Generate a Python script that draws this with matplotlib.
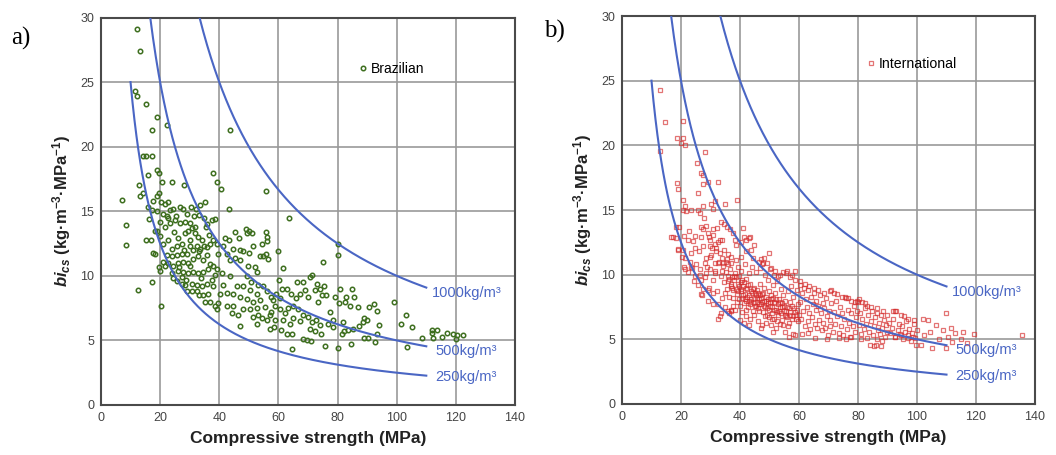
import numpy as np
import matplotlib
matplotlib.use("Agg")
import matplotlib.pyplot as plt

# ---------------- data ----------------
binder_levels = [250, 500, 1000]           # kg/m3 iso-binder curves (bi = B / fc)
curve_start = [10, 500 / 30, 1000 / 30]    # where each curve enters the plot (y = 30 or 25)
curve_end = 110
curve_labels = ["250kg/m³", "500kg/m³", "1000kg/m³"]
curve_label_xy = [(113, 2.15), (113, 4.2), (111.8, 8.65)]

brazilian_points = [
    (12.1, 29.1), (13.2, 27.4), (11.5, 24.3), (12.1, 23.9), (15.1, 23.3), (18.8, 22.3), (22.2, 21.7),
    (17.1, 21.3), (43.6, 21.3), (14.3, 19.3), (15.1, 19.3), (17.1, 19.3), (18.8, 18.2), (19.5, 18.0),
    (37.8, 18.0), (16.0, 17.8), (39.3, 17.3), (40.6, 16.7), (20.7, 17.3), (23.9, 17.3), (28.2, 17.0),
    (13.0, 17.0), (13.2, 16.2), (14.3, 16.4), (7.0, 15.9), (55.7, 16.6), (43.4, 15.2), (63.6, 14.5),
    (8.5, 13.9), (8.5, 12.4), (12.4, 8.9), (17.2, 9.5), (20.2, 7.7), (80.0, 12.5), (80.3, 11.6),
    (75.0, 11.1), (99.1, 8.0), (103.1, 7.0), (101.4, 6.3), (105.2, 6.0), (103.6, 4.5), (108.6, 5.2),
    (111.8, 5.8), (112.0, 5.6), (113.7, 5.8), (112.2, 5.2), (115.2, 5.3), (116.9, 5.6), (119.2, 5.5),
    (120.3, 5.4), (122.3, 5.4), (120.2, 5.1), (64.5, 4.3), (80.0, 4.4), (84.4, 4.7), (75.8, 4.6),
    (47.0, 6.1), (52.6, 6.3), (58.5, 6.0), (60.9, 5.8), (62.8, 5.5), (64.5, 5.5), (68.4, 5.1),
    (69.6, 5.0), (70.9, 4.95), (89.0, 5.2), (90.2, 5.2), (92.7, 4.9), (93.2, 5.5), (94.0, 6.2),
    (93.2, 7.3), (92.4, 7.8), (90.7, 7.6), (89.0, 6.7), (88.5, 6.4), (89.8, 6.6), (87.4, 6.1),
    (84.8, 9.0), (80.8, 9.0), (85.4, 8.4), (83.0, 8.4), (84.2, 7.7), (87.0, 7.6), (82.5, 8.0),
    (79.1, 8.4), (80.6, 7.9), (77.4, 7.2), (78.5, 6.6), (81.9, 6.4), (82.2, 5.7), (83.6, 5.8),
    (85.1, 5.9), (81.4, 5.5), (78.5, 6.0), (76.9, 6.3),
    (68.2, 9.5), (69.0, 8.9), (70.7, 9.9), (71.5, 10.1), (72.9, 9.4), (74.1, 9.0), (75.4, 9.2),
    (72.3, 8.9), (74.6, 8.5), (76.1, 8.5), (73.5, 8.0), (70.1, 8.4), (67.3, 8.6), (65.9, 8.3),
    (64.1, 8.6), (62.8, 9.0), (61.1, 9.0), (60.3, 9.7), (61.6, 10.6), (59.8, 11.9), (66.2, 9.5),
    (65.0, 7.7), (63.3, 7.5), (62.2, 7.1), (66.7, 7.4), (68.4, 7.0), (70.1, 6.8), (71.2, 6.4),
    (72.7, 6.6), (74.1, 6.2), (72.4, 5.7), (74.3, 5.5), (70.7, 5.9), (67.3, 6.5), (65.0, 6.7),
    (63.9, 6.3), (61.7, 6.6), (60.5, 7.4), (58.8, 7.7), (57.4, 7.2), (58.8, 6.6), (57.1, 5.9),
    (56.0, 6.6),
    (49.3, 13.3), (50.1, 13.5), (51.2, 13.3), (49.0, 13.6), (54.3, 12.5), (55.8, 13.4), (56.0, 13.0),
    (56.0, 12.7), (54.8, 11.5), (55.7, 11.7), (56.5, 11.3), (53.8, 11.5), (50.1, 11.8), (46.8, 12.9),
    (45.3, 13.4), (48.1, 11.9), (44.8, 12.1), (43.7, 11.2), (47.0, 11.2), (49.8, 10.8), (52.1, 10.7),
    (52.6, 10.3), (49.3, 10.0), (50.9, 9.5), (53.2, 9.3), (54.9, 9.2), (56.0, 8.8), (52.6, 8.6),
    (50.4, 8.9), (48.1, 9.2), (46.1, 9.2), (44.8, 8.6), (47.0, 8.4), (49.3, 8.2), (51.5, 8.0),
    (53.8, 8.1), (55.5, 7.6), (52.6, 7.5), (50.4, 7.4), (48.1, 7.4), (44.8, 7.7), (44.2, 7.1),
    (46.4, 7.0), (51.5, 6.8), (53.2, 7.0), (54.3, 6.7), (57.1, 7.0), (58.3, 8.1), (57.4, 8.4),
    (59.2, 8.6), (60.5, 8.3), (39.7, 7.9), (42.5, 7.7), (40.2, 8.6), (42.5, 8.7), (41.4, 9.3),
    (43.6, 10.0), (40.8, 10.2), (39.1, 10.5), (38.0, 10.8), (39.7, 11.7), (41.4, 12.3), (39.1, 12.5),
    (38.0, 12.8), (36.6, 13.2), (35.5, 13.8), (35.2, 15.7), (36.9, 12.5), (43.4, 12.8), (47.0, 12.0),
    (51.5, 12.3), (41.9, 12.9), (42.5, 11.7), (45.3, 11.4),
    (17.7, 15.8), (18.8, 16.2), (19.7, 16.4), (20.3, 15.7), (21.5, 15.6), (22.8, 15.7), (16.0, 15.3),
    (16.3, 14.4), (17.1, 15.1), (18.8, 15.0), (20.9, 14.8), (22.2, 14.6), (23.4, 15.1), (24.4, 15.2),
    (26.7, 15.3), (27.8, 15.2), (29.0, 14.8), (30.6, 15.3), (32.3, 15.2), (33.2, 14.7), (19.9, 14.2),
    (21.6, 13.8), (23.4, 14.1), (25.0, 14.3), (26.7, 14.1), (28.4, 14.2), (30.1, 14.1), (31.8, 13.8),
    (18.8, 13.5), (18.3, 13.5), (15.4, 12.8), (16.8, 12.8), (17.7, 11.8), (18.3, 11.7), (19.9, 13.1),
    (21.0, 12.5), (22.8, 12.8), (23.9, 12.1), (25.6, 12.3), (27.3, 12.5), (28.4, 13.3), (29.5, 13.5),
    (30.7, 13.7), (31.8, 13.3), (32.9, 13.0), (34.0, 12.8), (34.8, 12.3), (33.5, 12.1), (32.4, 12.3),
    (31.2, 12.0), (30.1, 12.3), (29.0, 11.7), (27.3, 11.7), (25.6, 11.6), (23.9, 11.5), (22.2, 11.6),
    (21.0, 11.1), (22.8, 11.0), (24.4, 10.8), (26.1, 11.0), (27.8, 11.1), (29.5, 11.0), (31.2, 11.3),
    (32.9, 11.5), (34.6, 11.2), (35.7, 11.6), (36.9, 10.9), (36.3, 10.5), (34.6, 10.3), (32.9, 10.2),
    (31.2, 10.3), (29.5, 10.2), (27.8, 10.3), (26.1, 10.4), (24.4, 9.8), (25.6, 9.6), (27.3, 9.9),
    (28.9, 9.7), (30.7, 9.4), (32.4, 9.3), (34.0, 9.2), (35.7, 9.4), (37.4, 9.7), (38.6, 10.1),
    (38.0, 9.2), (36.3, 8.6), (34.6, 8.5), (33.3, 8.5), (35.2, 8.0), (36.9, 8.0), (38.5, 7.7),
    (39.1, 7.4), (19.7, 10.7), (19.9, 10.4), (21.6, 10.8), (29.0, 8.8), (30.7, 8.8), (32.4, 8.8),
    (27.3, 9.4), (28.4, 9.3), (37.4, 14.3), (38.5, 14.4), (34.8, 14.5), (35.7, 14.0), (33.5, 15.5),
    (25.4, 14.6), (22.6, 14.5), (30.0, 12.8), (28.0, 12.0), (26.0, 12.9), (33.0, 11.9), (24.8, 13.4),
    (31.5, 14.6), (36.0, 12.2), (30.2, 10.8), (33.8, 9.8), (26.5, 10.7), (24.0, 10.2),
]

international_points = [
    (13.0, 24.3), (14.5, 21.8), (12.8, 19.6), (20.8, 21.9), (18.6, 20.6), (20.7, 20.6), (19.9, 20.2),
    (21.2, 20.0), (28.3, 19.5), (25.5, 18.6), (26.8, 17.9), (27.3, 17.7), (18.6, 17.1), (19.1, 16.6),
    (27.4, 17.0), (29.1, 17.2), (32.5, 17.2), (25.8, 16.3), (20.7, 15.8), (21.2, 15.3), (20.7, 15.0),
    (21.8, 14.9), (23.5, 15.0), (25.8, 15.0), (26.3, 14.8), (27.4, 15.3), (30.3, 15.5), (31.6, 15.7),
    (34.8, 15.5), (39.1, 15.8), (30.8, 15.1), (27.8, 14.4),
    (18.4, 13.7), (19.2, 13.7), (16.7, 12.9), (18.4, 12.8), (19.0, 12.0), (20.7, 11.9), (21.0, 10.6),
    (21.2, 10.4), (22.4, 12.7), (24.6, 13.0), (23.3, 11.7), (24.6, 12.1), (26.9, 13.7), (27.4, 13.5),
    (26.9, 12.9), (29.1, 13.2), (30.8, 13.5), (30.0, 12.7), (31.4, 12.4), (30.0, 12.2), (32.0, 12.1),
    (33.1, 12.7), (33.1, 11.7), (29.7, 11.4), (28.0, 10.9), (26.3, 10.4), (23.5, 10.6), (24.6, 9.9),
    (26.9, 9.6), (28.6, 10.1), (29.7, 10.4), (31.4, 10.1), (31.4, 10.9), (32.5, 10.9), (34.2, 10.9),
    (35.7, 11.2), (35.9, 10.8), (36.8, 11.4), (33.6, 14.1), (34.7, 13.9), (35.7, 13.7), (36.5, 13.5),
    (37.6, 13.2), (38.4, 12.7), (38.7, 12.3), (41.0, 13.6), (42.1, 12.7), (42.9, 12.8), (44.7, 12.3),
    (43.9, 11.9), (42.1, 11.8), (40.4, 11.4), (47.2, 11.2), (48.3, 11.3), (50.0, 11.7), (47.8, 10.9),
    (26.9, 8.5), (29.1, 8.8), (30.8, 8.6), (32.5, 7.7), (32.5, 6.6), (33.4, 7.0), (36.0, 7.2),
    (37.0, 7.3),
    (21.5, 11.3), (22.3, 10.2), (23.0, 11.0), (23.8, 10.5), (24.5, 9.5), (25.2, 10.8), (25.9, 9.2),
    (26.6, 10.0), (27.3, 8.9), (28.0, 9.8), (28.7, 10.6), (29.4, 9.0), (30.1, 11.5), (30.8, 9.6),
    (31.5, 10.3), (32.2, 8.7), (32.9, 11.0), (33.6, 9.9), (34.3, 10.7), (27.0, 8.4), (29.0, 8.0),
    (31.0, 7.7), (33.2, 6.8), (30.5, 12.1), (31.8, 11.8), (32.6, 12.5), (29.6, 12.9), (28.4, 11.3),
    (27.5, 12.2), (26.2, 11.8), (24.2, 12.6), (22.8, 13.4), (21.0, 13.0), (20.3, 11.4), (19.1, 11.9),
    (17.4, 12.95), (33.8, 11.3), (34.6, 11.9), (35.4, 11.0), (36.0, 11.6), (34.0, 8.2), (35.0, 7.5),
    (36.2, 7.0), (37.1, 7.2), (28.5, 13.8), (31.0, 13.1), (32.3, 13.6), (33.8, 12.7),
    (35.2, 10.2), (35.8, 9.9), (36.1, 9.5), (36.5, 10.4), (37.0, 9.1), (37.2, 9.8), (37.8, 8.8),
    (38.1, 9.6), (38.4, 10.1), (38.9, 8.5), (39.2, 9.3), (39.5, 8.1), (39.8, 9.9), (36.4, 8.3),
    (37.5, 7.6), (38.3, 7.3), (39.0, 7.9), (35.6, 8.9), (36.9, 10.9), (38.6, 11.1), (39.4, 10.6),
    (34.5, 9.4), (34.8, 8.6), (33.9, 10.3),
    (40.2, 9.4), (40.5, 8.7), (40.8, 8.2), (41.1, 9.1), (41.3, 7.8), (41.6, 8.5), (41.9, 9.7),
    (42.2, 8.0), (42.5, 8.9), (42.8, 7.5), (43.1, 8.4), (43.4, 9.3), (43.7, 7.9), (44.0, 8.6),
    (44.3, 7.2), (44.6, 8.2), (44.9, 9.0), (40.4, 10.3), (41.8, 10.8), (43.0, 10.1), (44.2, 10.6),
    (40.7, 7.1), (42.0, 6.8), (43.5, 6.6), (44.8, 6.9), (41.5, 6.3), (42.9, 6.1), (40.1, 6.5),
    (45.0, 7.6),
    (45.3, 8.4), (45.6, 7.9), (45.9, 8.8), (46.2, 7.4), (46.5, 8.1), (46.8, 9.3), (47.1, 7.7),
    (47.4, 8.5), (47.7, 7.1), (48.0, 8.0), (48.3, 9.0), (48.6, 7.5), (48.9, 8.3), (49.2, 6.9),
    (49.5, 7.8), (49.8, 8.7), (45.5, 10.2), (46.9, 10.5), (48.4, 10.0), (49.6, 9.6), (46.0, 6.4),
    (47.5, 6.1), (48.8, 6.3), (49.9, 6.7), (47.0, 5.9),
    (50.2, 7.6), (50.5, 8.4), (50.8, 7.0), (51.1, 9.2), (51.4, 7.9), (51.7, 6.6), (52.0, 8.6),
    (52.3, 7.3), (52.6, 9.5), (52.9, 6.9), (53.2, 8.1), (53.5, 7.5), (53.8, 8.9), (54.1, 6.5),
    (54.4, 7.8), (54.7, 8.4), (50.3, 10.4), (51.6, 10.0), (53.0, 9.9), (54.5, 10.2), (50.6, 6.1),
    (52.1, 5.9), (53.7, 6.2), (55.0, 7.2), (51.3, 5.6),
    (55.3, 8.0), (55.6, 6.8), (55.9, 7.5), (56.2, 8.7), (56.5, 6.3), (56.8, 7.9), (57.1, 7.1),
    (57.4, 9.1), (57.7, 6.6), (58.0, 8.3), (58.3, 7.4), (58.6, 5.3), (58.9, 6.9), (59.2, 8.8),
    (59.5, 6.4), (59.8, 7.7), (56.0, 10.3), (57.5, 10.0), (58.8, 9.6), (56.7, 5.2), (57.9, 5.4),
    (55.4, 5.6),
    # extra points in the dense core of the international cloud
    (36.3, 9.7), (36.9, 9.3), (37.4, 9.0), (37.9, 9.9), (38.5, 8.9), (38.8, 9.8), (39.3, 8.7),
    (39.7, 9.1), (40.3, 8.9), (40.6, 9.6), (41.0, 8.4), (41.4, 9.4), (41.7, 8.1), (42.1, 9.0),
    (42.4, 8.3), (42.7, 9.2), (43.2, 8.0), (43.6, 8.7), (43.9, 8.1), (44.4, 8.9), (44.7, 7.8),
    (45.1, 8.6), (45.4, 7.6), (45.8, 8.2), (46.1, 8.6), (46.4, 7.7), (46.7, 8.4), (47.2, 8.2),
    (47.6, 7.9), (47.9, 8.6), (48.2, 7.6), (48.7, 8.0), (49.0, 7.4), (49.4, 8.1), (49.7, 7.3),
    (50.1, 7.9), (50.4, 8.1), (50.9, 7.5), (51.2, 8.2), (51.5, 7.3), (51.9, 7.8), (52.2, 8.1),
    (52.5, 7.1), (52.8, 7.7), (53.3, 7.2), (53.6, 7.9), (54.0, 7.0), (54.3, 7.5), (54.8, 7.6),
    (55.2, 6.9), (55.7, 7.2), (56.1, 6.7), (56.6, 7.4), (57.0, 6.9), (57.6, 7.6), (58.1, 6.8),
    (58.5, 7.1), (59.0, 6.6), (59.4, 7.3), (59.9, 6.9), (37.6, 8.2), (39.9, 7.6), (41.9, 7.3),
    (43.3, 7.7), (46.6, 7.2), (48.5, 6.8), (50.7, 6.6), (52.7, 6.4), (54.6, 6.1), (56.3, 6.0),
    (60.2, 9.2), (60.5, 7.9), (60.8, 6.6), (61.1, 8.6), (61.4, 7.2), (61.7, 9.0), (62.0, 6.0),
    (62.3, 8.1), (62.6, 7.5), (62.9, 6.4), (63.2, 8.8), (63.5, 7.0), (63.8, 5.8), (64.1, 8.3),
    (64.4, 6.7), (64.7, 7.7), (65.0, 8.6), (65.3, 6.2), (65.6, 7.3), (65.9, 8.0), (66.2, 5.9),
    (66.5, 7.6), (66.8, 6.5), (67.1, 8.4), (67.4, 7.0), (67.7, 5.7), (68.0, 7.8), (68.3, 6.3),
    (68.6, 7.4), (68.9, 5.9), (69.2, 8.2), (69.5, 6.8), (69.8, 5.3), (70.1, 7.2), (61.0, 5.4),
    (63.0, 5.5), (65.5, 5.1), (69.5, 5.0), (71.0, 8.8), (70.5, 6.0),
    (70.6, 6.5), (71.0, 7.8), (71.4, 5.6), (71.8, 7.1), (72.2, 6.2), (72.6, 8.0), (73.0, 6.8),
    (73.4, 5.5), (73.8, 7.5), (74.2, 6.0), (74.6, 7.0), (75.0, 5.3), (75.4, 6.6), (75.8, 8.2),
    (76.2, 5.8), (76.6, 7.3), (77.0, 6.3), (77.4, 5.2), (77.8, 7.0), (78.2, 6.0), (78.6, 7.6),
    (79.0, 5.6), (79.4, 6.7), (79.8, 7.2), (72.0, 8.6), (74.5, 8.3), (77.5, 8.0), (78.9, 7.9),
    (76.0, 5.0), (73.5, 5.1),
    (80.3, 6.1), (80.7, 7.0), (81.1, 5.4), (81.5, 6.6), (81.9, 5.8), (82.3, 7.4), (82.7, 6.2),
    (83.1, 5.1), (83.5, 6.9), (83.9, 5.6), (84.3, 6.4), (84.7, 7.2), (85.1, 5.3), (85.5, 6.0),
    (85.9, 6.7), (86.3, 5.0), (86.7, 5.7), (87.1, 6.3), (87.5, 5.4), (87.9, 6.9), (88.3, 5.9),
    (88.7, 6.5), (89.1, 5.2), (89.5, 6.1), (89.9, 5.6), (81.5, 7.9), (84.0, 4.6), (85.5, 4.5),
    (88.0, 4.9), (86.5, 7.0), (83.0, 7.6),
    (90.4, 6.3), (90.9, 5.5), (91.4, 5.9), (91.9, 6.6), (92.4, 5.2), (92.9, 7.2), (93.4, 5.7),
    (93.9, 6.2), (94.4, 5.4), (94.9, 6.0), (95.4, 5.0), (95.9, 5.6), (96.4, 6.4), (96.9, 5.3),
    (97.4, 5.8), (97.9, 4.9), (98.4, 5.5), (98.9, 6.2), (99.4, 5.1), (99.9, 5.7),
    (109.9, 7.0), (111.5, 5.9), (135.6, 5.3), (119.4, 5.4), (115.5, 5.6), (115.0, 5.0), (112.0, 4.8),
    (109.9, 4.3), (105.1, 4.3), (101.4, 4.6), (99.7, 4.6), (107.6, 5.0), (108.7, 5.7), (106.5, 6.1),
    (103.6, 6.5), (102.0, 6.6), (99.1, 6.5), (95.5, 6.8), (92.7, 7.2), (90.0, 6.9), (98.6, 5.2),
    (96.9, 5.1), (94.6, 5.3), (92.4, 5.2), (87.8, 4.5), (86.1, 4.6), (81.0, 5.0), (77.7, 5.2),
    (80.0, 7.9), (76.5, 8.2), (104.5, 5.6), (102.5, 5.3), (110.5, 5.2), (113.0, 5.5), (117.0, 4.7),
    (40.5, 12.5), (41.5, 12.9), (43.5, 12.9), (44.5, 11.3), (46.5, 11.0), (47.5, 10.8), (49.0, 10.9),
    (50.5, 10.5), (52.0, 10.3), (53.5, 10.0), (55.5, 10.1), (57.0, 9.8), (58.5, 10.3), (60.5, 9.5),
    (62.0, 9.3), (63.5, 9.1), (65.0, 9.0), (66.5, 8.8), (68.5, 8.6), (70.5, 8.7), (73.0, 8.5),
    (75.5, 8.3), (79.5, 8.0), (80.5, 8.1), (82.5, 7.8), (84.5, 7.5), (86.5, 7.4), (88.5, 7.2),
    (92.0, 7.2), (94.5, 6.9), (97.0, 6.6),
]

x_ticks = [0, 20, 40, 60, 80, 100, 120, 140]
y_ticks = [0, 5, 10, 15, 20, 25, 30]

# ---------------- style ----------------
plt.rcParams["font.family"] = ["Liberation Sans", "DejaVu Sans"]
plt.rcParams["mathtext.fontset"] = "custom"
plt.rcParams["mathtext.rm"] = "Liberation Sans:bold"
plt.rcParams["mathtext.it"] = "Liberation Sans:italic:bold"
plt.rcParams["mathtext.bf"] = "Liberation Sans:bold"

curve_color = "#4a66c4"
grid_color = "#999999"
spine_color = "#4a4a4a"
tick_color = "#444444"

fig = plt.figure(figsize=(10.56, 4.55), dpi=100)
ax_a = fig.add_axes([0.0956, 0.1099, 0.3921, 0.8516])
ax_b = fig.add_axes([0.5890, 0.1121, 0.3911, 0.8527])


def style_axes(ax):
    ax.set_xlim(0, 140)
    ax.set_ylim(0, 30)
    ax.set_xticks(x_ticks)
    ax.set_yticks(y_ticks)
    ax.grid(True, color=grid_color, linewidth=1.2)
    ax.set_axisbelow(True)
    for sp in ax.spines.values():
        sp.set_color(spine_color)
        sp.set_linewidth(1.5)
    ax.tick_params(length=0, pad=5, labelsize=9, colors=tick_color)
    ax.set_xlabel("Compressive strength (MPa)", fontsize=12.5, fontweight="bold",
                  color="#222222", labelpad=5)
    ax.set_ylabel(r"$\mathit{bi_{cs}}$ (kg·m$^{\mathrm{-3}}$·MPa$^{\mathrm{-1}}$)",
                  fontsize=12, fontweight="bold", color="#222222", labelpad=5)
    for b, x0, lab, (lx, ly) in zip(binder_levels, curve_start, curve_labels, curve_label_xy):
        xs = np.linspace(x0, curve_end, 300)
        ax.plot(xs, b / xs, color=curve_color, linewidth=1.5, zorder=3)
        ax.text(lx, ly, lab, color=curve_color, fontsize=10.5, va="center", ha="left", zorder=4)


style_axes(ax_a)
style_axes(ax_b)

bx, by = zip(*brazilian_points)
ax_a.plot(bx, by, linestyle="none", marker="o", markersize=3.2, markerfacecolor="none",
          markeredgecolor="#3d6e1e", markeredgewidth=1.1, zorder=2, label="Brazilian")
ix, iy = zip(*international_points)
ax_b.plot(ix, iy, linestyle="none", marker="s", markersize=3.4, markerfacecolor="none",
          markeredgecolor="#d42a2a", markeredgewidth=0.9, alpha=0.65, zorder=2,
          label="International")

ax_a.legend(loc="center left", bbox_to_anchor=(0.625, 0.867), frameon=False, fontsize=10,
            handlelength=0.5, handletextpad=0.3, borderaxespad=0, borderpad=0)
ax_b.legend(loc="center left", bbox_to_anchor=(0.595, 0.877), frameon=False, fontsize=10.2,
            handlelength=0.5, handletextpad=0.3, borderaxespad=0, borderpad=0)

fig.text(0.0105, 0.915, "a)", fontsize=18, family=["Liberation Serif", "DejaVu Serif"],
         va="center", ha="left")
fig.text(0.515, 0.930, "b)", fontsize=18, family=["Liberation Serif", "DejaVu Serif"],
         va="center", ha="left")

fig.savefig("out.png", dpi=100)
